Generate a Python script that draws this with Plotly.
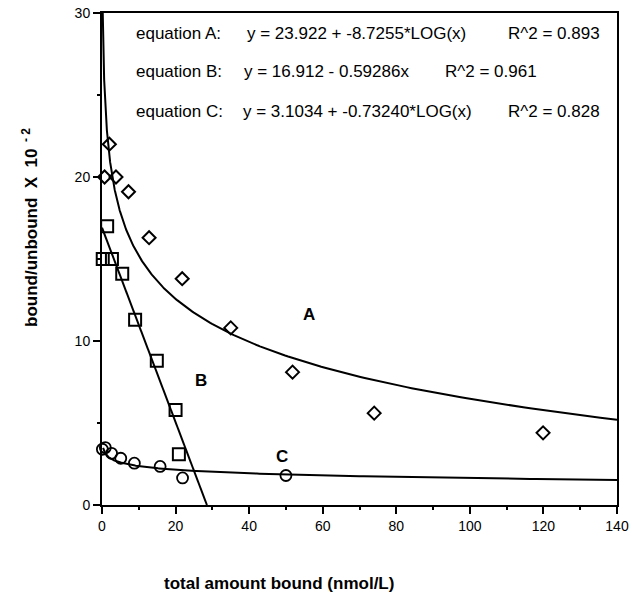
import numpy as np
import plotly.graph_objects as go

# Data
a_x = [0.7, 2.0, 3.8, 7.2, 12.8, 21.8, 35.0, 51.8, 74.0, 119.9]
a_y = [20.0, 22.0, 20.0, 19.1, 16.3, 13.8, 10.8, 8.1, 5.6, 4.4]

b_x = [0.2, 1.4, 2.7, 5.5, 9.0, 14.9, 20.0, 20.9]
b_y = [15.0, 17.0, 15.0, 14.1, 11.3, 8.8, 5.8, 3.1]

c_x = [0.1, 0.9, 2.6, 5.1, 8.8, 15.8, 21.9, 50.0]
c_y = [3.4, 3.5, 3.15, 2.85, 2.55, 2.35, 1.65, 1.8]

# Fitted equations shown on the chart
A0, A1 = 23.922, -8.7255
B0, B1 = 16.912, -0.59286
C0, C1 = 3.1034, -0.73240

eq_labels = [
    ("equation A:", "y = 23.922 + -8.7255*LOG(x)", "R^2 = 0.893"),
    ("equation B:", "y = 16.912 - 0.59286x", "R^2 = 0.961"),
    ("equation C:", "y = 3.1034 + -0.73240*LOG(x)", "R^2 = 0.828"),
]

xa = np.geomspace(0.2, 140, 400)
ya = A0 + A1 * np.log10(xa)
xb = np.array([0.0, -B0 / B1])
yb = B0 + B1 * xb
xc = np.geomspace(0.3, 140, 400)
yc = C0 + C1 * np.log10(xc)

fig = go.Figure()
line = dict(color="black", width=2)
fig.add_trace(go.Scatter(x=xa, y=ya, mode="lines", line=line, hoverinfo="skip"))
fig.add_trace(go.Scatter(x=xb, y=yb, mode="lines", line=line, hoverinfo="skip"))
fig.add_trace(go.Scatter(x=xc, y=yc, mode="lines", line=line, hoverinfo="skip"))

fig.add_trace(go.Scatter(x=a_x, y=a_y, mode="markers", cliponaxis=False,
                         marker=dict(symbol="diamond-open", size=10, color="black",
                                     line=dict(width=2, color="black"))))
fig.add_trace(go.Scatter(x=b_x, y=b_y, mode="markers", cliponaxis=False,
                         marker=dict(symbol="square-open", size=12, color="black",
                                     line=dict(width=2, color="black"))))
fig.add_trace(go.Scatter(x=c_x, y=c_y, mode="markers", cliponaxis=False,
                         marker=dict(symbol="circle-open", size=11, color="black",
                                     line=dict(width=1.8, color="black"))))

fnt = "Liberation Sans, Arial, Helvetica, sans-serif"
ann = []
# curve letters
for t, x, y in [("A", 56.3, 11.6), ("B", 26.9, 7.6), ("C", 48.9, 2.95)]:
    ann.append(dict(x=x, y=y, xref="x", yref="y", text=t, showarrow=False,
                    font=dict(family=fnt, size=17, color="black", weight="bold")))

# equation lines, segment centres in pixels
PL, PW, PT, PH = 102, 515, 13, 492
rows_py = [33, 72, 112]
cols_px = [[178, 356, 554], [179, 326, 491], [179, 357, 554]]
for (t1, t2, t3), py, cx in zip(eq_labels, rows_py, cols_px):
    for t, px in zip((t1, t2, t3), cx):
        ann.append(dict(x=(px - PL) / PW, y=1 - (py - PT) / PH,
                        xref="paper", yref="paper", text=t,
                        showarrow=False, xanchor="center", yanchor="middle",
                        font=dict(family=fnt, size=17, color="black")))
# axis titles
ann.append(dict(x=(279 - PL) / PW, y=1 - (583 - PT) / PH, xref="paper", yref="paper",
                text="total amount bound (nmol/L)", showarrow=False,
                xanchor="center", yanchor="middle",
                font=dict(family=fnt, size=17, color="black", weight="bold")))
ann.append(dict(x=(30 - PL) / PW, y=1 - (228 - PT) / PH, xref="paper", yref="paper",
                textangle=-90,
                text="bound/unbound  X  10<sup>  - 2</sup>", showarrow=False,
                xanchor="center", yanchor="middle",
                font=dict(family=fnt, size=17, color="black", weight="bold")))

axis_common = dict(showline=True, linecolor="black", linewidth=2, mirror=True,
                   showgrid=False, zeroline=False, ticks="outside", ticklen=7,
                   tickwidth=2, tickcolor="black", automargin=False,
                   tickfont=dict(family=fnt, size=14, color="black"))
fig.update_layout(
    width=632, height=598,
    margin=dict(l=PL, r=632 - PL - PW, t=PT, b=598 - PT - PH, autoexpand=False),
    paper_bgcolor="white", plot_bgcolor="white",
    showlegend=False,
    annotations=ann,
    xaxis=dict(range=[0, 140], tickvals=[0, 20, 40, 60, 80, 100, 120, 140],
               minor=dict(dtick=10, tick0=0, ticks="outside", ticklen=3,
                          tickwidth=2, tickcolor="black"),
               **axis_common),
    yaxis=dict(range=[0, 30], tickvals=[0, 10, 20, 30],
               minor=dict(dtick=5, tick0=0, ticks="outside", ticklen=3,
                          tickwidth=2, tickcolor="black"),
               **axis_common),
)
fig.write_html("out.html", config={"displayModeBar": False},
               post_script="document.body.style.margin='0';"
                           "document.body.style.overflow='hidden';")
